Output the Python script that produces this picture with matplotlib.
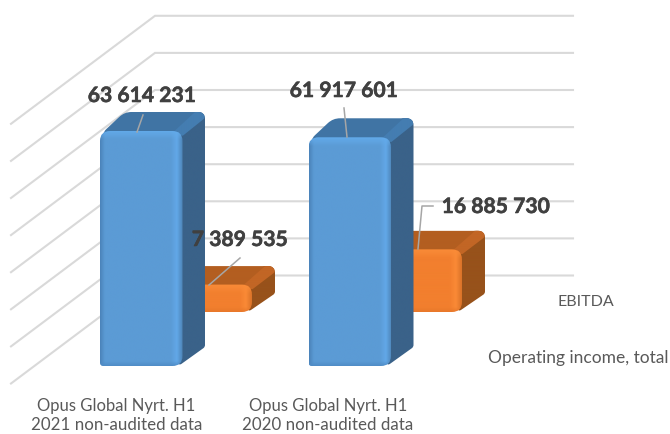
import numpy as np
import matplotlib
matplotlib.use("Agg")
import matplotlib.pyplot as plt
import matplotlib.patheffects as pe
from matplotlib.path import Path
from matplotlib.patches import PathPatch
from matplotlib.colors import to_rgb

plt.rcParams['font.family'] = ['Lato', 'DejaVu Sans']

categories_line1 = ["Opus Global Nyrt. H1", "Opus Global Nyrt. H1"]
categories_line2 = ["2021 non-audited data", "2020 non-audited data"]
series_names = ["Operating income, total", "EBITDA"]
operating_income = [63614231, 61917601]
ebitda = [7389535, 16885730]
value_labels_income = ["63 614 231", "61 917 601"]
value_labels_ebitda = ["7 389 535", "16 885 730"]
grid_values = [0, 10e6, 20e6, 30e6, 40e6, 50e6, 60e6, 70e6]

W, H = 670, 434
PX_PER_UNIT = 3.71e-6      # pixels per currency unit
BASE_BACK = 275.5          # pixel row of value 0 on the back wall

fig = plt.figure(figsize=(W / 100, H / 100), dpi=100)
ax = fig.add_axes([0, 0, 1, 1])
ax.axis("off")


def h(v):
    return v * PX_PER_UNIT


def rounded_path(pts, radii):
    verts, codes = [], []
    n = len(pts)
    for i in range(n):
        p = np.array(pts[i], float)
        a = np.array(pts[i - 1], float)
        b = np.array(pts[(i + 1) % n], float)
        r = radii[i]
        d1 = (a - p) / max(np.linalg.norm(a - p), 1e-6)
        d2 = (b - p) / max(np.linalg.norm(b - p), 1e-6)
        s, e = p + d1 * r, p + d2 * r
        verts += [s, p, e]
        codes += [Path.MOVETO if i == 0 else Path.LINETO, Path.CURVE3, Path.CURVE3]
    verts.append(verts[0])
    codes.append(Path.CLOSEPOLY)
    return Path(np.array(verts), codes)


def gradient_patch(path, x0, x1, y0, y1, fn, z):
    nx, ny = max(int(x1 - x0) * 2, 2), max(int(y1 - y0) * 2, 2)
    xs = (np.arange(nx) + .5) / 2
    ys = (np.arange(ny) + .5) / 2
    img = fn(xs, ys)
    im = ax.imshow(img, extent=(x0, x1, y1, y0), aspect="auto", zorder=z,
                   interpolation="bilinear")
    patch = PathPatch(path, transform=ax.transData, fc="none", ec="none", zorder=z)
    ax.add_patch(patch)
    im.set_clip_path(patch)


def front_shader(base, left, light, edge, top_light, bottom):
    base, left, light, edge, top_light, bottom = map(
        lambda c: np.array(to_rgb(c)), (base, left, light, edge, top_light, bottom))

    def fn(xs, ys):
        w, ht = xs[-1] + xs[0], ys[-1] + ys[0]
        img = np.ones((len(ys), len(xs), 3)) * base
        for j, y in enumerate(ys):
            for i, x in enumerate(xs):
                c = base.copy()
                if x < 5:
                    c = left + (base - left) * (x / 5)
                elif x > w - 12:
                    t = (x - (w - 12)) / 12
                    c = base + (light - base) * min(t * 2, 1) if t < .5 else light + (edge - light) * (t - .5) * 2
                if y < 9:
                    c = top_light + (c - top_light) * (y / 9)
                elif y > ht - 5:
                    c = c + (bottom - c) * ((y - (ht - 5)) / 5)
                img[j, i] = c
        return img
    return fn


def flat_shader(c1, c2, horizontal=True):
    c1, c2 = np.array(to_rgb(c1)), np.array(to_rgb(c2))

    def fn(xs, ys):
        img = np.zeros((len(ys), len(xs), 3))
        for j, y in enumerate(ys):
            for i, x in enumerate(xs):
                t = x / xs[-1] if horizontal else y / ys[-1]
                img[j, i] = c1 + (c2 - c1) * t
        return img
    return fn


def draw_bar(xl, width, top, base, dx, dy, pal, z):
    xr = xl + width
    # side face
    side = [(xr - 6, top), (xr + dx - 12, top - dy), (xr + dx, top - dy), (xr + dx, base - dy), (xr - 4, base)]
    gradient_patch(rounded_path(side, [2, 2, 7, 2, 4]), xr - 6, xr + dx, top - dy, base,
                   flat_shader(pal["side"], pal["side"]), z)
    # top face
    tp = [(xl, top + 4), (xl + dx + 2, top - dy), (xr + dx, top - dy), (xr - 1, top + 4)]
    gradient_patch(rounded_path(tp, [9, 7, 7, 1]), xl, xr + dx, top - dy, top + 4,
                   flat_shader(pal["top"], pal["top2"]), z + .1)
    # lighter bevel running from the front corner to the back corner
    strip = [(xr - 8, top), (xr + dx - 10, top - dy), (xr + dx, top - dy), (xr + dx, top - dy + 6), (xr, top + 5)]
    gradient_patch(rounded_path(strip, [1, 1, 7, 2, 1]), xr - 8, xr + dx, top - dy, top + 5,
                   flat_shader(pal["bevel"], pal["bevel"]), z + .15)
    # front face
    front = [(xl, top), (xr, top), (xr, base), (xl, base)]
    gradient_patch(rounded_path(front, [10, 10, 10, 3]), xl, xr, top, base,
                   front_shader(pal["front"], pal["left"], pal["light"], pal["edge"],
                                pal["toplight"], pal["bottom"]), z + .2)


blue = dict(front="#5B9BD5", left="#4A82B8", light="#62A8E8", edge="#4C82B4", toplight="#63ABEB",
            bottom="#4F8CC6", side="#3A6289", top="#4074A4", top2="#4074A4", bevel="#447DB1")
orange = dict(front="#F27F2E", left="#E0762A", light="#FA8A36", edge="#D87228", toplight="#FA8C38",
              bottom="#E8782A", side="#97521B", top="#B35E20", top2="#B35E20", bevel="#C26625")

# gridlines: back wall plus receding side wall
for g in grid_values:
    y = BASE_BACK - h(g)
    ax.plot([11, 155, 573], [y + 108, y, y], color="#D9D9D9", lw=1.5, zorder=1,
            solid_joinstyle="miter")

# bars
income_x = [100, 308.5]
ebitda_x = [170, 380]
for i in range(2):
    draw_bar(ebitda_x[i], 82, 312 - h(ebitda[i]), 312, 23, 18.5, orange, 2 + i * 4)
    draw_bar(income_x[i], 82.5, 366 - h(operating_income[i]) + 1, 366, 22.5, 19, blue, 3 + i * 4)

# leader lines
leaders = [
    ([137, 143], [132, 115]),
    ([209, 240], [285, 258]),
    ([347, 344], [137, 108]),
    ([418, 422, 433], [249, 206, 206]),
]
for lx, ly in leaders:
    ax.plot(lx, ly, color="#A6A6A6", lw=1.1, zorder=20)

# value labels
label_pos = [(142, 96), (240, 240), (344, 91), (496, 207)]
for (x, y), s in zip(label_pos, [value_labels_income[0], value_labels_ebitda[0],
                                 value_labels_income[1], value_labels_ebitda[1]]):
    ax.text(x, y, s, ha="center", va="center", fontsize=15.2, fontweight="bold",
            color="#404040", zorder=21,
            path_effects=[pe.withStroke(linewidth=0.4, foreground="#404040")])

# category labels
for x, a, b in zip([116.5, 328], categories_line1, categories_line2):
    ax.text(x, 405.5, a, ha="center", va="center", fontsize=12, color="#595959", zorder=21)
    ax.text(x, 425, b, ha="center", va="center", fontsize=12.2, color="#595959", zorder=21)

# depth axis labels
ax.text(586, 302, series_names[1], ha="center", va="center", fontsize=11.5, color="#595959")
ax.text(578, 358, series_names[0], ha="center", va="center", fontsize=12.5, color="#595959")

ax.set_xlim(0, W)
ax.set_ylim(H, 0)
fig.savefig("out.png", dpi=100)
